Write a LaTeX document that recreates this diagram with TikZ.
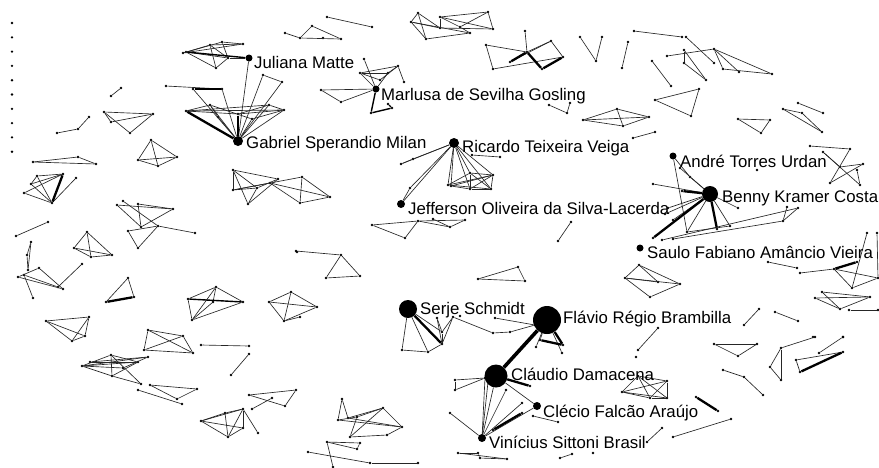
\documentclass[tikz,border=0pt]{standalone}
\usepackage{fontspec}
\setmainfont{Liberation Sans}
\begin{document}
\begin{tikzpicture}[x=1pt,y=-1pt,
  dot/.style={circle,fill=black,draw=none,inner sep=0pt,minimum size=2.6pt},
  hub/.style={circle,fill=black,draw=none,inner sep=0pt,minimum size=#1},
  edge/.style={draw=black!85,line width=0.65pt},
  heavy/.style={draw=black,line width=2.3pt},
  medium/.style={draw=black,line width=1.4pt},
  lbl/.style={anchor=base west,inner sep=0pt,font=\fontsize{16.8}{18}\selectfont}]
\useasboundingbox[fill=white] (0,0) rectangle (879,467);
% ---------- hubs ----------
\node[hub=7pt]  (Jul) at (249,58) {};
\node[hub=10pt] (G)   at (238,141) {};
\node[hub=7pt]  (M)   at (376,89) {};
\node[hub=10pt] (Ri)  at (454,143) {};
\node[hub=8pt]  (Jef) at (401,204) {};
\node[hub=7pt]  (An)  at (673,156) {};
\node[hub=16pt] (B)   at (710,194) {};
\node[hub=7pt]  (Sa)  at (640,248) {};
\node[hub=18pt] (S)   at (408,309) {};
\node[hub=28pt] (F)   at (547,320) {};
\node[hub=23pt] (C)   at (496,376) {};
\node[hub=8pt]  (Cl)  at (537,406) {};
\node[hub=8pt]  (V)   at (482,438) {};
% ---------- isolated dots on the left ----------
\foreach \i in {0,...,9} \node[dot] (ld\i) at (12,{23+14.3*\i}) {};
% ---------- all small nodes ----------
\foreach \n/\x/\y in {
 ja/183/53, jb/186/52, jc/210/45, jd/222/42, je/243/44, jf/228/58, jg/216/68,
 ga/166/86, gb/193/89, gc/222/89, gd/186/111, ge/210/105, gf/218/117, gg/238/114,
 gh/252/119, gi/269/105, gj/284/110, gk/263/75, gl/282/82,
 sa1/111/96, sa2/121/88, sb1/57/133, sb2/78/129, sb3/89/117,
 ta/104/112, tb/153/114, tc/111/122, td/130/133,
 ua/285/33, ub/312/26, uc/300/38, ud/323/38, ue/341/39, va/327/17, vb/372/27,
 t1/411/22, t2/418/13, t3/440/17, t4/488/12, t5/493/29, t6/470/33, t7/426/39, t8/460/27, t9/440/28,
 r1/486/45, r2/525/31, r3/527/52, r4/510/62, r5/493/69, r6/551/41, r7/563/57, r8/542/69,
 m1/364/59, m2/360/73, m3/398/66, m4/404/82, m5/388/73, m6/380/80, m7/321/90, m8/341/102,
 m9/371/113, m10/392/108, m11/388/104,
 wa/549/105, wb/567/113, wc/570/103,
 xa/580/37, xb/602/37, xc/596/61, xd/628/42, xe/622/68, xf/634/31, xg/682/37, xh/686/37, xi/714/63,
 xj/667/56, xk/714/49, xl/684/50, xm/684/63, xn/706/80, xo/723/69, xp/739/72, xq/772/74,
 xr/652/61, xs/671/86, xt/655/100, xu/699/89, xv/691/116,
 ya/583/120, yb/617/109, yc/623/126, yd/649/117, ye/633/138, yf/655/132,
 yg/738/119, yh/770/120, yi/761/133, yj/798/103, yk/823/113, yl/783/109, ym/802/113, yn/822/132,
 rc1/401/164, rc2/413/159, rc3/448/185, rc4/451/186, rc5/470/173, rc6/493/175, rc7/470/189,
 rc8/491/189, rc9/410/188, rc10/472/155, rc11/500/157,
 ka/372/225, kb/418/221, kc/405/238, kd/450/227, ke/465/220, kf/433/219, kg/571/222, kh/558/241,
 ki/296/251, kj/341/255, kk/326/278, kl/360/276, km/478/279, kn/518/267, ko/525/281,
 la/33/162, lb/78/157, lc/96/164,
 lda/37/176, ldb/63/174, ldc/31/184, ldd/24/193, lde/52/203, ldf/76/178,
 lea/151/140, leb/138/160, lec/158/166, led/177/157,
 p1/233/170, p2/233/190, p3/248/204, p4/257/188, p5/278/179, p6/270/183, p7/300/203, p8/302/177, p9/330/197,
 lf/16/236, lg/48/222,
 q1/117/205, q2/123/201, q3/138/204, q4/173/209, q5/141/227, q6/158/226, q7/128/231, q8/138/248, q9/195/233,
 lh/87/232, li/74/248, lj/91/257, lk/112/255,
 z1/31/242, z2/27/255, z3/28/270, z4/39/268, z5/18/277, z6/24/275, z7/58/287, z8/63/289, z9/33/298, z10/82/264,
 ll/128/278, lm/134/297, ln/106/302, lo/297/252,
 n1/188/299, n2/216/287, n3/243/302, n4/213/302, n5/192/320,
 o1/269/302, o2/291/292, o3/284/321, o4/300/317, o5/317/307,
 ba/46/321, bb/89/317, bc/85/336, bd/72/341, be/148/330, bf/183/336, bg/193/353, bh/144/350,
 bi/201/345, bj/249/346, bk/249/354, bl/231/375,
 h1/82/366, h2/90/362, h3/111/355, h4/112/376, h5/123/368, h6/138/362, h7/148/357, h8/141/384,
 bm/150/385, bn/197/389, bo/177/399, bp/138/390, bq/182/404,
 i1/249/395, i2/296/390, i3/285/406, i4/272/398, i5/252/409,
 e1/201/421, e2/225/413, e3/243/409, e4/243/428, e5/228/437, e6/258/433,
 s1/402/350, s2/428/352, s3/442/344, s4/442/332, s5/453/317, s6/437/318, s7/460/316,
 s8/493/333, s9/510/332, s10/535/325, s11/495/318,
 f1/563/345, f2/562/353, f3/536/347, f4/540/340,
 c1/455/380, c2/455/390, c3/485/378, c4/530/386, c5/506/390, c6/522/403, c7/493/430, c8/522/413,
 c9/450/413, c10/558/422, c11/533/416, c12/488/382,
 d1/342/399, d2/338/420, d3/348/418, d4/357/417, d5/383/408, d6/402/427, d7/387/435, d8/350/437,
 d9/308/452, d10/327/442, d11/360/443, d12/357/449, d13/370/463, d14/418/463, d15/333/467,
 d16/458/453, d17/478/453, d18/507/459, d19/480/458, d20/560/458, d21/572/454,
 mm1/744/325, mm2/759/309, mm3/775/312, mm4/798/321, mm5/658/328, mm6/638/350, mm7/636/357,
 dm1/622/392, dm2/638/376, dm3/667/381, dm4/650/398, dm5/667/398,
 mt1/714/344, mt2/757/344, mt3/738/356,
 mq1/770/367, mq2/781/348, mq3/781/380, mq4/815/337, mr1/819/353, mr2/843/337,
 ms1/796/360, ms2/800/372, ms3/843/352, mu1/723/370, mu2/744/377, mu3/763/395,
 mv1/696/397, mv2/718/411, mw1/673/437, mw2/731/419, mx1/662/428, mx2/647/442, my1/593/453,
 b1/653/184, b2/682/191, b3/680/168, b4/690/177, b5/687/232, b6/717/229, b7/730/226, b8/738/208,
 b9/653/238, b10/673/220, b11/662/240, b12/673/239, b13/798/208, b14/783/221, b15/787/207,
 b16/668/208, b17/665/214,
 ar1/810/146, ar2/850/149, ar3/823/152, ar4/840/167, ar5/863/164, ar6/857/170, ar7/860/185,
 ar8/830/183, ar9/757/170,
 rb1/768/262, rb2/797/268, rb3/800/273, rb4/834/269, rb5/857/262, rb6/852/288, rb7/878/278,
 rb8/867/233, rb9/877/233,
 rd1/822/292, rd2/815/298, rd3/840/309, rd4/870/297, rd5/849/310, rd6/878/310, rd7/813/337, rd8/843/337,
 sd1/639/265, sd2/625/278, sd3/650/297, sd4/658/282, sd5/680/284}
 \node[dot] (\n) at (\x,\y) {};
% ---------- thin edges ----------
\foreach \a/\b in {
 ja/jc, ja/jd, ja/je, jb/jf, jb/jg, jc/jg, jd/jf, jd/je, jc/je, jf/Jul, jg/jf, jc/jf,
 ga/gc, gb/G, gc/G, gd/ge, ge/G, gd/gg, gd/gj, gf/G, ge/gf, gg/gi, gh/G, gh/gj, gi/G, gi/gj,
 gj/G, gk/G, gk/gl, gl/G, Jul/G, gd/gi, gg/gj, ge/gh,
 sa1/sa2, sb1/sb2, sb2/sb3, ta/tb, ta/td, tc/tb, td/tb, ta/tc,
 ua/uc, uc/ue, ub/ue, ub/uc, va/vb,
 t1/t2, t1/t7, t1/t6, t2/t9, t3/t4, t3/t5, t3/t8, t4/t5, t4/t8, t9/t5, t7/t6, t3/t9, t8/t6, t1/t9, t2/t7,
 r1/r3, r1/r5, r5/r7, r2/r3, r3/r6, r6/r7, r4/r6,
 m1/M, m2/m3, m2/m5, m2/m6, m3/m4, m3/m5, m5/M, m2/M, m7/M, m7/m8, m8/M, m6/m3,
 wa/wb, wb/wc,
 xa/xc, xb/xc, xd/xe, xf/xg, xh/xi, xj/xk, xl/xm, xm/xn, xl/xn, xk/xo, xk/xp, xk/xq, xo/xq, xr/xs,
 xt/xu, xu/xv, xt/xv, ya/yb, ya/yc, ya/yd, yb/yc, yb/yd, yc/yd, ye/yf, yg/yh, yh/yi, yg/yi,
 yj/yk, yl/ym, yl/yn, ym/yn,
 Ri/rc1, rc1/rc2, Ri/rc2, Ri/rc3, Ri/rc4, Ri/rc5, Ri/rc6, Ri/rc7, Ri/rc8, Ri/rc9, rc9/Jef, Ri/Jef,
 rc10/rc11, rc3/rc5, rc3/rc6, rc5/rc6, rc5/rc7, rc5/rc8, rc6/rc7, rc6/rc8, rc7/rc8, rc3/rc8, rc4/rc6, rc7/rc4,
 ka/kb, ka/kc, kc/kb, kb/kd, kb/ke, kf/kd, kd/ke, kg/kh, ki/kj, kj/kk, kj/kl, kk/kl, km/kn, kn/ko, km/ko,
 la/lb, lb/lc, la/lc,
 lda/ldb, lda/lde, ldc/ldb, ldd/ldb, ldd/lde, ldf/lde, ldc/lde, lda/ldc,
 lea/leb, lea/lec, lea/led, leb/lec, lec/led, leb/led,
 p1/p2, p1/p3, p1/p5, p2/p4, p2/p6, p3/p4, p4/p1, p5/p4, p2/p8, p6/p7, p8/p9, p8/p7, p7/p9, p5/p3, p6/p9,
 lf/lg, q1/q4, q2/q6, q3/q5, q1/q5, q5/q4, q6/q9, q7/q6, q7/q8, q8/q6, q3/q4,
 lh/li, lh/lj, lh/lk, li/lj, li/lk, lj/lk,
 z1/z3, z2/z3, z5/z4, z4/z8, z5/z8, z6/z9, z7/z10, z6/z7, z1/z2,
 ll/lm, ll/ln, n1/n2, n2/n3, n2/n4, n1/n5, n5/n2, n5/n3, n4/n5,
 o1/o2, o1/o3, o2/o3, o2/o5, o3/o5, o1/o5, o3/o4,
 ba/bb, ba/bc, ba/bd, bb/bc, bb/bd, bc/bd, be/bf, be/bg, be/bh, bf/bg, bf/bh, bg/bh,
 bi/bj, bk/bl,
 h1/h3, h1/h6, h1/h7, h1/h4, h2/h6, h3/h4, h3/h8, h4/h6, h3/h6, h5/h7, h4/h8, h2/h7, h1/h5,
 bm/bn, bn/bo, bm/bo, bp/bq, i1/i2, i1/i3, i2/i3, i4/i5,
 e1/e2, e1/e3, e1/e4, e1/e5, e2/e3, e2/e5, e3/e4, e3/e6, e4/e5, e3/e5,
 S/s1, S/s2, S/s4, s1/s2, s2/s3, s3/s4, s4/s5, s3/s5, s6/s3, s6/s4, s5/s8, s8/s9, s9/s10, s11/s10,
 F/f3, F/f4, F/f2,
 c1/c3, c2/c3, c1/c2, C/Cl, V/C, V/c12, V/c5, V/c6, V/Cl, c9/V, c11/c10, V/c3,
 d1/d3, d1/d2, d2/d6, d3/d6, d4/d5, d3/d5, d5/d6, d5/d8, d8/d7, d7/d6, d4/d8, d2/d4,
 d9/d13, d10/d11, d10/d15, d12/d10, d13/d14, d11/d12, d16/d18, d17/d19, d16/d17, d19/d18, d20/d21,
 mm1/mm2, mm3/mm4, mm5/mm6,
 dm1/dm2, dm1/dm3, dm1/dm4, dm1/dm5, dm2/dm3, dm2/dm4, dm2/dm5, dm3/dm4, dm3/dm5, dm4/dm5,
 mt1/mt2, mt2/mt3, mt1/mt3, mq2/mq4, mq2/mq1, mq1/mq3, mq2/mq3, mr1/mr2, ms1/ms3, ms1/ms2,
 mu1/mu2, mu2/mu3, mw1/mw2, mx1/mx2,
 B/b1, B/b3, B/b4, An/b5, B/b5, B/b7, B/b8, B/b10, b11/b13, b12/b14, b5/b7, b14/b15, b14/b13,
 B/b16, B/b17, An/b4,
 ar1/ar2, ar2/ar8, ar3/ar7, ar4/ar5, ar5/ar8, ar6/ar7, ar3/ar4,
 rb1/rb2, rb3/rb4, rb4/rb6, rb4/rb7, rb8/rb6, rb9/rb7, rb6/rb7,
 rd1/rd4, rd2/rd3, rd1/rd3, rd2/rd4, rd3/rd4, rd5/rd6,
 sd1/sd2, sd1/sd4, sd1/sd5, sd2/sd3, sd2/sd5, sd3/sd5, sd4/sd2}
 \draw[edge] (\a) -- (\b);
% ---------- heavy edges ----------
\foreach \a/\b in {gb/gc, gd/G, gg/G, r4/r3, r3/r8, r8/r7, ldb/lde, ln/lm, S/s3,
 F/f1, f4/f1, C/c4, c7/c8, ms2/ms3, mv1/mv2, B/b2, B/b6, B/b9, rb4/rb5}
 \draw[heavy] (\a) -- (\b);
\foreach \a/\b in {jb/Jul, M/m9, m9/m10, m10/m11, n1/n3}
 \draw[medium] (\a) -- (\b);
\draw[draw=black,line width=3.6pt] (F) -- (C);
% ---------- labels ----------
\node[lbl] (tJul) at (254,68)  {Juliana Matte};
\node[lbl] (tM)   at (381,100) {Marlusa de Sevilha Gosling};
\node[lbl] (tG)   at (246,148) {Gabriel Sperandio Milan};
\node[lbl] (tRi)  at (462,152) {Ricardo Teixeira Veiga};
\node[lbl] (tAn)  at (680,167) {André Torres Urdan};
\node[lbl] (tB)   at (722,202) {Benny Kramer Costa};
\node[lbl] (tJef) at (408,214) {Jefferson Oliveira da Silva-Lacerda};
\node[lbl] (tSa)  at (647,258) {Saulo Fabiano Amâncio Vieira};
\node[lbl] (tS)   at (420,314) {Serje Schmidt};
\node[lbl] (tF)   at (563,323) {Flávio Régio Brambilla};
\node[lbl] (tC)   at (511,380) {Cláudio Damacena};
\node[lbl] (tCl)  at (543,417) {Clécio Falcão Araújo};
\node[lbl] (tV)   at (489,448) {Vinícius Sittoni Brasil};
\end{tikzpicture}
\end{document}
